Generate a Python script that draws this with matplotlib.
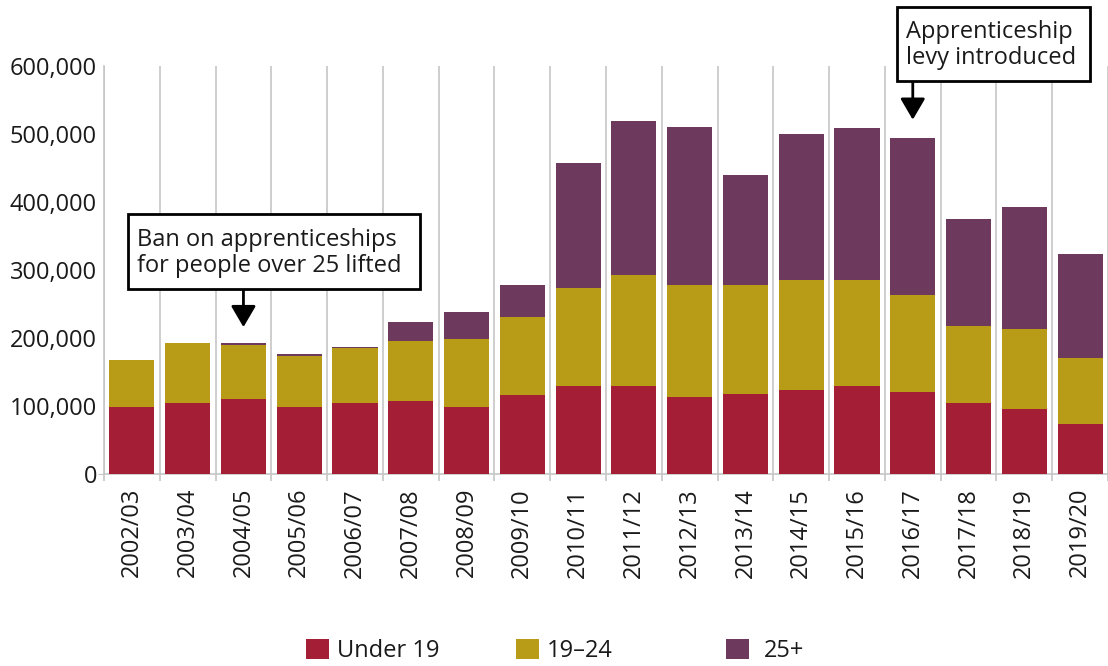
import matplotlib
matplotlib.use("Agg")
import matplotlib.pyplot as plt
import numpy as np
from matplotlib.patches import Rectangle
from matplotlib.ticker import FuncFormatter

plt.rcParams['font.family'] = ['Open Sans', 'DejaVu Sans']
plt.rcParams['font.size'] = 17

years = ['2002/03', '2003/04', '2004/05', '2005/06', '2006/07', '2007/08',
         '2008/09', '2009/10', '2010/11', '2011/12', '2012/13', '2013/14',
         '2014/15', '2015/16', '2016/17', '2017/18', '2018/19', '2019/20']
under_19 = [98000, 105000, 111000, 99000, 104000, 107000, 99000, 116000, 130000,
            129000, 113000, 118000, 124000, 130000, 121000, 105000, 96000, 74000]
age_19_24 = [69000, 87000, 78000, 74000, 81000, 88000, 99000, 115000, 143000,
             163500, 165000, 160000, 161000, 155000, 142000, 112500, 117000, 96000]
age_25_plus = [0, 0, 3000, 3000, 1500, 28000, 40000, 47000, 184000,
               227000, 233000, 162000, 215500, 224000, 231500, 157500, 180000, 153000]

series = [('Under 19', under_19, '#a41f36'),
          ('19\u201324', age_19_24, '#b89b16'),
          ('25+', age_25_plus, '#6d3a5e')]

W, H = 1108, 666
fig = plt.figure(figsize=(W / 100, H / 100), dpi=100)
ax = fig.add_axes([104 / W, 1 - 474 / H, (1108 - 104) / W, (474 - 66) / H])

x = np.arange(len(years))
bottom = np.zeros(len(years))
bars = []
for name, vals, col in series:
    b = ax.bar(x, vals, width=0.81, bottom=bottom, color=col, label=name, zorder=3)
    bars.append(b)
    bottom += np.array(vals)

grey = '#c6c6c6'
ax.set_xlim(-0.5, len(years) - 0.5)
ax.set_ylim(0, 600000)
ax.set_yticks(np.arange(0, 600001, 100000))
ax.yaxis.set_major_formatter(FuncFormatter(lambda v, p: '{:,.0f}'.format(v)))
ax.tick_params(axis='y', length=0, pad=5, labelcolor='#1a1a1a')
ax.yaxis.get_major_ticks()[0].tick1line.set_markersize(4)
ax.tick_params(axis='y', color=grey)

ax.set_xticks(x)
ax.set_xticklabels(years, rotation=90, va='top')
ax.tick_params(axis='x', which='major', length=0, pad=10, labelcolor='#1a1a1a')
ax.set_xticks(np.arange(-0.5, len(years)), minor=True)
ax.tick_params(axis='x', which='minor', length=5, color=grey, width=1.2)
ax.xaxis.grid(True, which='minor', color=grey, lw=1.2, zorder=1)

for s in ['top', 'right']:
    ax.spines[s].set_visible(False)
for s in ['left', 'bottom']:
    ax.spines[s].set_color(grey)
    ax.spines[s].set_linewidth(1.2)

# annotations
arrow = dict(arrowstyle='-|>,head_length=0.65,head_width=0.38', color='black',
             lw=2, mutation_scale=20, shrinkA=0, shrinkB=0)
ax.annotate('', xy=(2, 216000), xytext=(2, 272000), arrowprops=arrow, zorder=5)
ax.annotate('', xy=(14, 521000), xytext=(14, 579000), arrowprops=arrow,
            annotation_clip=False, zorder=5)

fig.patches.append(Rectangle((128 / W, 1 - 289 / H), (420 - 128) / W, (289 - 214) / H,
                             transform=fig.transFigure, fill=True, facecolor='white',
                             edgecolor='black', lw=2, zorder=4))
fig.text(137 / W, 1 - 253 / H, 'Ban on apprenticeships\nfor people over 25 lifted',
         ha='left', va='center', linespacing=1.08, color='#1a1a1a', zorder=6)
fig.patches.append(Rectangle((897 / W, 1 - 81 / H), (1090 - 897) / W, (81 - 7) / H,
                             transform=fig.transFigure, fill=True, facecolor='white',
                             edgecolor='black', lw=2, zorder=4))
fig.text(906 / W, 1 - 45 / H, 'Apprenticeship\nlevy introduced',
         ha='left', va='center', linespacing=1.08, color='#1a1a1a', zorder=6)

# legend, one entry per block
for b, (name, vals, col), lx in zip(bars, series, [306, 516, 726]):
    fig.legend([b], [name], loc='center left', bbox_to_anchor=(lx / W, 1 - 651 / H),
               frameon=False, borderpad=0, borderaxespad=0, handlelength=0.97,
               handleheight=0.97, handletextpad=0.35 if name != '25+' else 0.65,
               labelcolor='#1a1a1a')

fig.savefig('out.png', dpi=100)
